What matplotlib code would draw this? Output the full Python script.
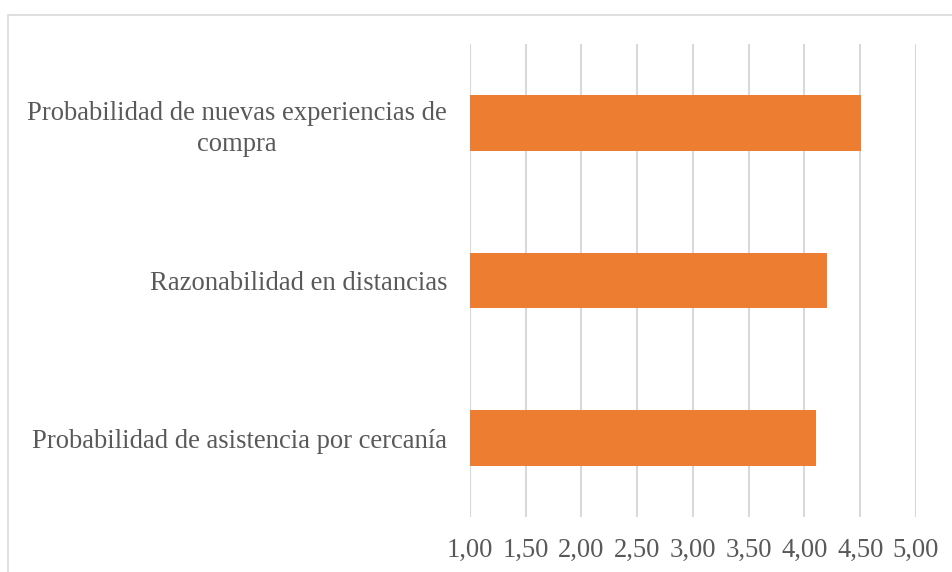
import matplotlib
matplotlib.use("Agg")
import matplotlib.pyplot as plt
from matplotlib.patches import Rectangle

categories = [
    "Probabilidad de asistencia por cercanía",
    "Razonabilidad en distancias",
    "Probabilidad de nuevas experiencias de\ncompra",
]
values = [4.10, 4.20, 4.51]
x_ticks = [1.00, 1.50, 2.00, 2.50, 3.00, 3.50, 4.00, 4.50, 5.00]
x_tick_labels = ["1,00", "1,50", "2,00", "2,50", "3,00", "3,50", "4,00", "4,50", "5,00"]

W, H = 953, 572
fig = plt.figure(figsize=(W / 100, H / 100), dpi=100)
fig.patch.set_facecolor("white")

# outer chart frame
fig.patches.append(Rectangle((8.5 / W, -0.1), 1.2, (H - 14.5) / H + 0.1,
                             transform=fig.transFigure, fill=False,
                             edgecolor="#d9d9d9", linewidth=1.2))

left, right = 470 / W, 916 / W
bottom, top = 1 - 517 / H, 1 - 44 / H
ax = fig.add_axes([left, bottom, right - left, top - bottom])

base = 1.0
ax.barh(range(len(categories)), [v - base for v in values], left=base,
        height=0.355, color="#ED7D31", zorder=3)

ax.set_xlim(1.0, 5.0)
ax.set_ylim(-0.5, len(categories) - 0.5)
ax.set_xticks(x_ticks)
ax.set_xticklabels(x_tick_labels)
ax.set_yticks(range(len(categories)))
ax.set_yticklabels(categories)

font = "Liberation Serif"
for lbl in ax.get_xticklabels():
    lbl.set_fontfamily(font)
    lbl.set_fontsize(19.2)
    lbl.set_color("#595959")
for lbl in ax.get_yticklabels():
    lbl.set_fontfamily(font)
    lbl.set_fontsize(19.2)
    lbl.set_color("#595959")
    lbl.set_multialignment("center")
    lbl.set_linespacing(1.3)

ax.grid(axis="x", color="#d9d9d9", linewidth=1.5, zorder=0)
ax.tick_params(axis="both", length=0)
ax.tick_params(axis="x", pad=15)
ax.tick_params(axis="y", pad=16.5)
for s in ax.spines.values():
    s.set_visible(False)

fig.savefig("out.png", dpi=100)
